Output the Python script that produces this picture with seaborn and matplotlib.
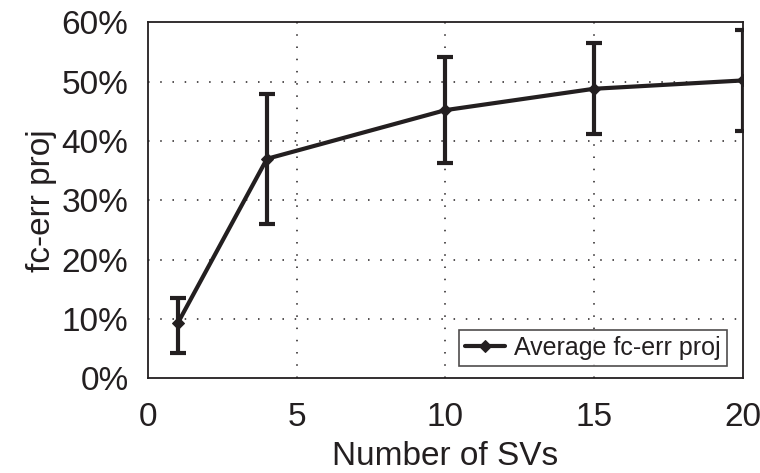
import matplotlib
matplotlib.use("Agg")
import matplotlib.pyplot as plt
from matplotlib.ticker import FuncFormatter
import seaborn as sns
import pandas as pd
import numpy as np

# Number of SVs and the projected fc-err (percent) with its spread
num_svs = [1, 4, 10, 15, 20]
avg_err = [9.3, 37.0, 45.2, 48.8, 50.2]
err_high = [13.5, 47.9, 54.1, 56.5, 58.7]
err_low = [4.3, 26.0, 36.3, 41.1, 41.7]

x_ticks = [0, 5, 10, 15, 20]
y_ticks = [0, 10, 20, 30, 40, 50, 60]

series_name = "Average fc-err proj"

sns.set_theme(style="white")
plt.rcParams["font.family"] = ["Liberation Sans", "DejaVu Sans"]

ink = "#231f20"

df = pd.DataFrame({"svs": num_svs, "err": avg_err, "label": series_name})

fig = plt.figure(figsize=(7.6, 4.73), dpi=100)
ax = fig.add_axes([0.1947, 0.1998, 0.7825, 0.7531])

# dotted grid behind the data
for yv in y_ticks[1:-1]:
    ax.axhline(yv, color=ink, lw=1.1, ls=(0, (1, 7)), zorder=0)
for xv in x_ticks[1:-1]:
    ax.axvline(xv, color=ink, lw=1.1, ls=(0, (1, 7)), zorder=0)

lower = np.array(avg_err) - np.array(err_low)
upper = np.array(err_high) - np.array(avg_err)
ax.errorbar(num_svs, avg_err, yerr=[lower, upper], fmt="none",
            ecolor=ink, elinewidth=3.0, capsize=5.5, capthick=3.0, zorder=2)

sns.lineplot(data=df, x="svs", y="err", hue="label", palette=[ink],
             marker="D", markersize=6.5, markeredgecolor=ink, linewidth=3.0,
             ax=ax, zorder=3)

ax.set_xlim(0, 20)
ax.set_ylim(0, 60)
ax.set_xticks(x_ticks)
ax.set_yticks(y_ticks)
ax.yaxis.set_major_formatter(FuncFormatter(lambda v, p: f"{v:.0f}%"))

ax.tick_params(axis="both", direction="out", length=7, width=1.2,
               color=ink, labelcolor=ink, labelsize=24)
ax.tick_params(axis="y", pad=7)
ax.tick_params(axis="x", pad=10)

for side in ["left", "right", "top", "bottom"]:
    ax.spines[side].set_visible(True)
    ax.spines[side].set_color(ink)
    ax.spines[side].set_linewidth(1.3)

ax.set_xlabel("Number of SVs", fontsize=24, color=ink, labelpad=6)
ax.set_ylabel("fc-err proj", fontsize=24, color=ink, labelpad=3)

leg = ax.legend(loc="lower right", bbox_to_anchor=(0.9736, 0.035),
                borderaxespad=0, fontsize=18, frameon=True, fancybox=False,
                handlelength=1.6, handletextpad=0.35, borderpad=0.25)
leg.get_frame().set_edgecolor(ink)
leg.get_frame().set_linewidth(1.2)
for t in leg.get_texts():
    t.set_color(ink)

fig.savefig("out.png", dpi=100)
